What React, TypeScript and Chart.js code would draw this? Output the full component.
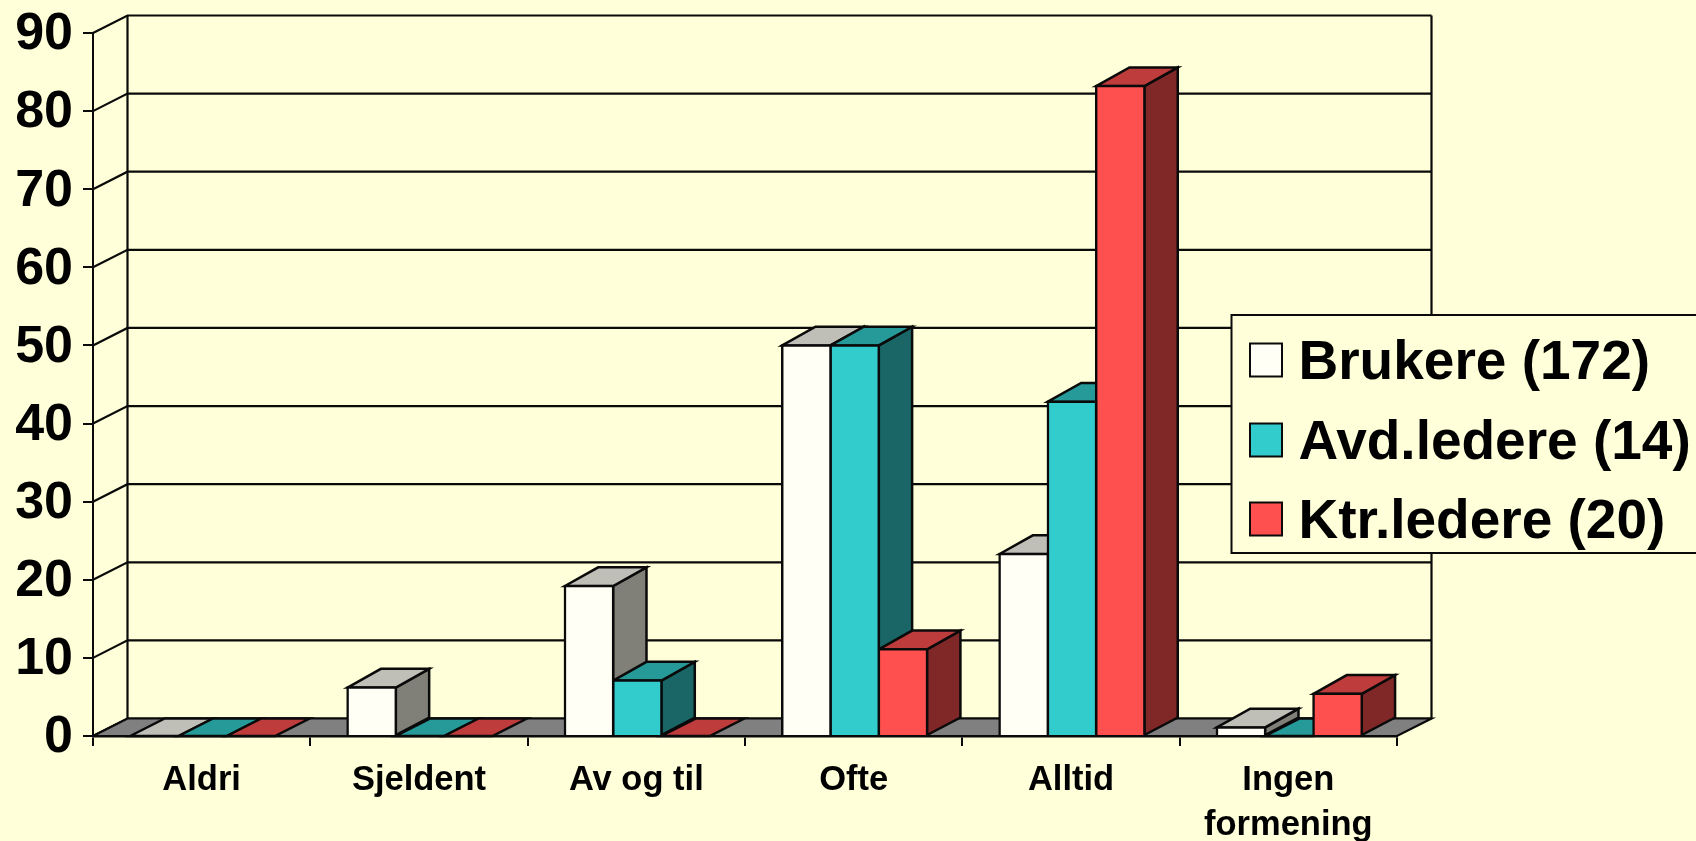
import React, { useEffect, useRef } from "react";
import { Chart, registerables } from "chart.js";

Chart.register(...registerables);

const categories = ["Aldri", "Sjeldent", "Av og til", "Ofte", "Alltid", ["Ingen", "formening"]];
const brukere = [0, 6.2, 19.2, 50, 23.3, 1.1];
const avdLedere = [0, 0, 7.1, 50, 42.8, 0];
const ktrLedere = [0, 0, 0, 11.1, 83.2, 5.4];
const seriesNames = ["Brukere (172)", "Avd.ledere (14)", "Ktr.ledere (20)"];
const frontColors = ["#FFFFF5", "#33CCCC", "#FF5050"];
const topColors = ["#BFBFB8", "#269999", "#BF3C3C"];
const sideColors = ["#808078", "#1A6666", "#802828"];

const BG = "#FFFFD9";
const INK = "#0A0A0A";
const FONT = '"Liberation Sans", Arial, sans-serif';
const WALL_DX = 34.5;
const WALL_DY = 17.5;
const BAR_DX = 33.3;
const BAR_DY = 18.7;
const BAR_SHIFT = 1;

function poly(ctx: CanvasRenderingContext2D, pts: number[][], fill?: string) {
  ctx.beginPath();
  pts.forEach((p, i) => (i ? ctx.lineTo(p[0], p[1]) : ctx.moveTo(p[0], p[1])));
  ctx.closePath();
  if (fill) {
    ctx.fillStyle = fill;
    ctx.fill();
  }
  ctx.stroke();
}

const scene3d = {
  id: "scene3d",
  beforeDraw(chart: any) {
    const { ctx, width, height } = chart;
    ctx.save();
    ctx.fillStyle = BG;
    ctx.fillRect(0, 0, width, height);
    ctx.restore();
  },
  afterDatasetsUpdate(chart: any) {
    chart.data.datasets.forEach((_: any, i: number) => {
      chart.getDatasetMeta(i).data.forEach((bar: any) => {
        bar.x += BAR_SHIFT;
      });
    });
  },
  beforeDatasetsDraw(chart: any) {
    const { ctx, chartArea: a, scales } = chart;
    const yS = scales.y;
    ctx.save();
    ctx.strokeStyle = INK;
    ctx.lineWidth = 2.2;
    ctx.lineJoin = "miter";
    // walls + gridlines
    yS.ticks.forEach((t: any) => {
      const y = yS.getPixelForValue(t.value);
      ctx.beginPath();
      ctx.moveTo(a.left, y);
      ctx.lineTo(a.left + WALL_DX, y - WALL_DY);
      ctx.lineTo(a.right + WALL_DX, y - WALL_DY);
      ctx.stroke();
    });
    ctx.beginPath();
    ctx.moveTo(a.left + WALL_DX, a.top - WALL_DY);
    ctx.lineTo(a.left + WALL_DX, a.bottom - WALL_DY);
    ctx.moveTo(a.right + WALL_DX, a.top - WALL_DY);
    ctx.lineTo(a.right + WALL_DX, a.bottom - WALL_DY);
    ctx.stroke();
    // floor
    poly(
      ctx,
      [
        [a.left, a.bottom],
        [a.left + WALL_DX, a.bottom - WALL_DY],
        [a.right + WALL_DX, a.bottom - WALL_DY],
        [a.right, a.bottom],
      ],
      "#808080"
    );
    // bar sides & tops, painter's order
    ctx.lineWidth = 2.5;
    const n = chart.data.labels.length;
    for (let j = 0; j < n; j++) {
      chart.data.datasets.forEach((_: any, i: number) => {
        const bar = chart.getDatasetMeta(i).data[j];
        const l = bar.x - bar.width / 2;
        const r = bar.x + bar.width / 2;
        const t = bar.y;
        const b = bar.base;
        const isFlat = b - t <= 0.5;
        const dx = isFlat ? WALL_DX : BAR_DX;
        const dy = isFlat ? WALL_DY : BAR_DY;
        if (!isFlat) {
          poly(
            ctx,
            [
              [r, t],
              [r + dx, t - dy],
              [r + dx, b - WALL_DY],
              [r, b],
            ],
            sideColors[i]
          );
        }
        poly(
          ctx,
          [
            [l, t],
            [l + dx, t - dy],
            [r + dx, t - dy],
            [r, t],
          ],
          topColors[i]
        );
      });
    }
    ctx.restore();
  },
  afterDraw(chart: any) {
    const { ctx } = chart;
    ctx.save();
    ctx.fillStyle = BG;
    ctx.strokeStyle = INK;
    ctx.lineWidth = 2;
    ctx.fillRect(1231.5, 315, 480, 238);
    ctx.strokeRect(1231.5, 315, 480, 238);
    const swatchY = [343.5, 423.5, 502.5];
    const baseY = [379, 459, 538];
    chart.data.datasets.forEach((ds: any, i: number) => {
      ctx.fillStyle = frontColors[i];
      ctx.fillRect(1250, swatchY[i], 32, 33);
      ctx.strokeRect(1250, swatchY[i], 32, 33);
      ctx.fillStyle = "#000";
      ctx.font = `bold 55px ${FONT}`;
      ctx.textAlign = "left";
      ctx.textBaseline = "alphabetic";
      ctx.fillText(ds.label, 1298.5, baseY[i]);
    });
    ctx.restore();
  },
};

export default function App() {
  const ref = useRef<HTMLCanvasElement | null>(null);
  useEffect(() => {
    document.body.style.margin = "0";
    const values = [brukere, avdLedere, ktrLedere];
    const chart = new Chart(ref.current as HTMLCanvasElement, {
      type: "bar",
      data: {
        labels: categories as any,
        datasets: seriesNames.map((label, i) => ({
          label,
          data: values[i],
          backgroundColor: frontColors[i],
          borderColor: INK,
          borderWidth: 2.5,
          inflateAmount: 1.25,
          categoryPercentage: 2 / 3,
          barPercentage: 1,
        })) as any,
      },
      plugins: [scene3d],
      options: {
        responsive: false,
        animation: false,
        layout: { padding: { top: 33, right: 299, left: 0, bottom: 0 } },
        plugins: { legend: { display: false }, tooltip: { enabled: false } },
        scales: {
          x: {
            afterFit: (s: any) => {
              s.height = 105;
              s.paddingLeft = 0;
              s.paddingRight = 0;
            },
            grid: { drawOnChartArea: false, color: INK, lineWidth: 2, tickLength: 10 },
            border: { color: INK, width: 2.5 },
            ticks: {
              color: "#000",
              font: { family: FONT, weight: "bold", size: 34.5, lineHeight: 1.31 },
              padding: 12,
              maxRotation: 0,
              autoSkip: false,
            },
          },
          y: {
            min: 0,
            max: 90,
            afterFit: (s: any) => {
              s.width = 93;
              s.paddingTop = 0;
              s.paddingBottom = 0;
            },
            grid: { drawOnChartArea: false, color: INK, lineWidth: 2, tickLength: 10 },
            border: { color: INK, width: 2 },
            ticks: {
              stepSize: 10,
              color: "#000",
              font: { family: FONT, weight: "bold", size: 52 },
              padding: 10,
              labelOffset: 2,
            },
          },
        },
      },
    } as any);
    return () => chart.destroy();
  }, []);
  return (
    <div style={{ position: "absolute", left: 0, top: 0, width: 1696, height: 841 }}>
      <canvas ref={ref} width={1696} height={841} style={{ display: "block" }} />
    </div>
  );
}
